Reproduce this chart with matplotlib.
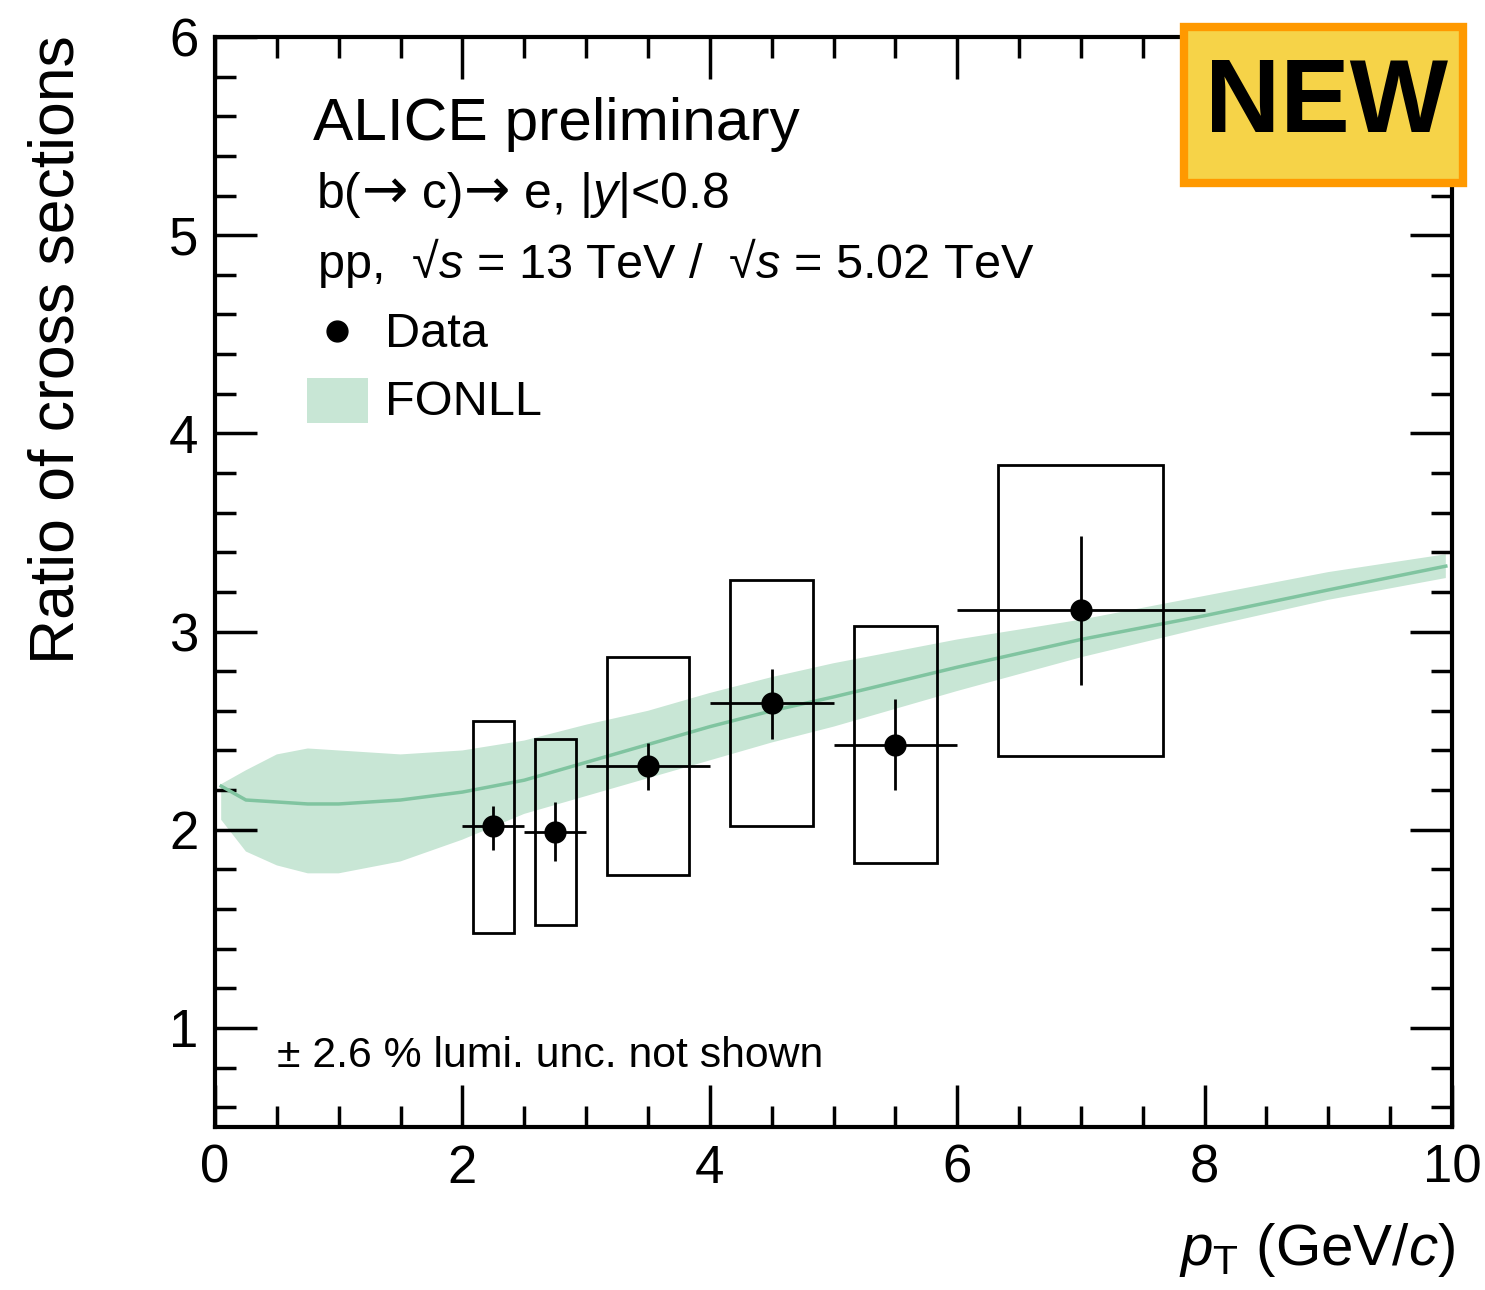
import numpy as np
import matplotlib
matplotlib.use('Agg')
import matplotlib.pyplot as plt
from matplotlib.patches import Rectangle
from matplotlib.lines import Line2D

plt.rcParams['font.family'] = ['Liberation Sans', 'DejaVu Sans']
plt.rcParams['mathtext.fontset'] = 'custom'
plt.rcParams['mathtext.rm'] = 'Liberation Sans'
plt.rcParams['mathtext.it'] = 'Liberation Sans:italic'

# data points (ratio 13 TeV / 5.02 TeV)
pt = [2.25, 2.75, 3.5, 4.5, 5.5, 7.0]
bin_lo = [2.0, 2.5, 3.0, 4.0, 5.0, 6.0]
bin_hi = [2.5, 3.0, 4.0, 5.0, 6.0, 8.0]
ratio = [2.02, 1.99, 2.32, 2.64, 2.43, 3.11]
stat_lo = [1.90, 1.84, 2.20, 2.46, 2.20, 2.73]
stat_hi = [2.12, 2.14, 2.44, 2.81, 2.66, 3.48]
sys_lo = [1.48, 1.52, 1.77, 2.02, 1.83, 2.37]
sys_hi = [2.55, 2.46, 2.87, 3.26, 3.03, 3.84]

# FONLL band
fonll_pt = [0.05, 0.25, 0.5, 0.75, 1.0, 1.5, 2.0, 2.5, 3.0, 3.5, 4.0, 4.5, 5.0, 6.0, 7.0, 8.0, 9.0, 9.95]
fonll_c = [2.22, 2.15, 2.14, 2.13, 2.13, 2.15, 2.19, 2.25, 2.34, 2.43, 2.52, 2.60, 2.67, 2.82, 2.96, 3.08, 3.21, 3.33]
fonll_hi = [2.23, 2.30, 2.38, 2.41, 2.40, 2.38, 2.40, 2.45, 2.53, 2.60, 2.69, 2.77, 2.84, 2.96, 3.06, 3.18, 3.30, 3.39]
fonll_lo = [2.05, 1.89, 1.82, 1.78, 1.78, 1.84, 1.95, 2.08, 2.17, 2.26, 2.35, 2.44, 2.52, 2.70, 2.87, 3.02, 3.16, 3.27]

W, H = 1485, 1290
def fx(px):
    return px / W
def fy(py):
    return 1 - py / H

fig = plt.figure(figsize=(W / 100, H / 100), dpi=100)
ax = fig.add_axes([fx(215), fy(1127), fx(1452) - fx(215), fy(37) - fy(1127)])

band_col = '#c8e6d5'
line_col = '#80c4a0'
ax.fill_between(fonll_pt, fonll_lo, fonll_hi, facecolor=band_col, edgecolor='none', zorder=1)
ax.plot(fonll_pt, fonll_c, color=line_col, lw=2.5, zorder=2)

pt_a = np.array(pt)
lo = np.array(bin_lo)
hi = np.array(bin_hi)
r = np.array(ratio)
for i in range(len(pt)):
    hw = (hi[i] - lo[i]) / 3
    ax.add_patch(Rectangle((pt[i] - hw, sys_lo[i]), 2 * hw, sys_hi[i] - sys_lo[i],
                           fill=False, edgecolor='black', lw=2, zorder=3))

ax.errorbar(pt_a, r, xerr=[pt_a - lo, hi - pt_a],
            yerr=[r - np.array(stat_lo), np.array(stat_hi) - r],
            fmt='o', color='black', ms=15, elinewidth=2, capsize=0, zorder=4)

ax.set_xlim(0, 10)
ax.set_ylim(0.5, 6)
ax.set_xticks([0, 2, 4, 6, 8, 10])
ax.set_xticks(np.arange(0, 10.01, 0.5), minor=True)
ax.set_yticks([1, 2, 3, 4, 5, 6])
ax.set_yticks(np.arange(0.6, 6.01, 0.2), minor=True)
ax.tick_params(which='both', direction='in', top=True, right=True, width=2.5)
ax.tick_params(which='major', length=30, labelsize=38, pad=12)
ax.tick_params(which='minor', length=15)
for s in ax.spines.values():
    s.set_linewidth(3)

fig.text(fx(57), fy(35), 'Ratio of cross sections', rotation=90, ha='center', va='top', fontsize=45)
fig.text(fx(1455), fy(1265), r'$p_{\mathrm{T}}$ (GeV/$c$)', ha='right', va='baseline', fontsize=42)

fig.text(fx(313), fy(140), 'ALICE preliminary', fontsize=43.5, va='baseline')

# decay line, arrows taken from DejaVu Sans (longer glyph)
renderer = fig.canvas.get_renderer()
arrow_kw = {'family': 'DejaVu Sans', 'fontsize': 40}
pieces = [('b(', {}), ('→', arrow_kw), (' c)', {}), ('→', arrow_kw), (' e, |$y$|<0.8', {})]
cur = 317
for s, kw in pieces:
    opts = {'fontsize': 36}
    opts.update(kw)
    t = fig.text(fx(cur), fy(208), s, va='baseline', **opts)
    cur = t.get_window_extent(renderer).x1

fig.text(fx(317), fy(278), 'pp,  √$s$ = 13 TeV /  √$s$ = 5.02 TeV', fontsize=35, va='baseline')

# legend
fig.add_artist(Line2D([fx(337)], [fy(331)], marker='o', color='black', ms=15))
fig.text(fx(385), fy(347), 'Data', fontsize=35, va='baseline')
fig.add_artist(Rectangle((fx(307), fy(423)), fx(368) - fx(307), fy(378) - fy(423),
                         transform=fig.transFigure, facecolor=band_col, edgecolor='none'))
fig.text(fx(385), fy(415), 'FONLL', fontsize=35, va='baseline')

fig.text(fx(277), fy(1067), '± 2.6 % lumi. unc. not shown', fontsize=30.8, va='baseline')

# NEW badge
fig.add_artist(Rectangle((fx(1184), fy(183)), fx(1463) - fx(1184), fy(27) - fy(183),
                         transform=fig.transFigure, facecolor='#F6D348', edgecolor='#FF9900', lw=6, zorder=10))
fig.text(fx(1326), fy(105), 'NEW', fontsize=75, fontweight='bold', ha='center', va='center', zorder=11)

fig.savefig('out.png', dpi=100)
